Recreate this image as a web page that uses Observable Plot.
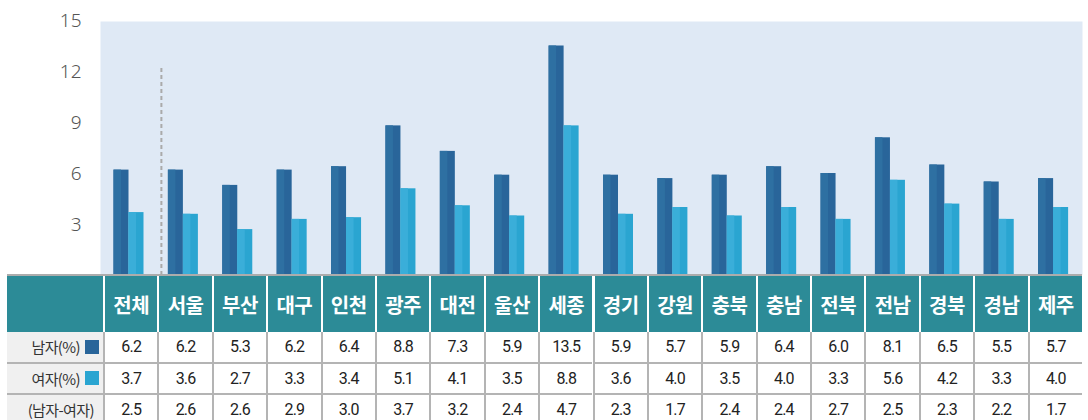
<!DOCTYPE html>
<html>
<head>
<meta charset="utf-8">
<script src="https://cdn.jsdelivr.net/npm/d3@7"></script>
<script src="https://cdn.jsdelivr.net/npm/@observablehq/plot@0.6"></script>
<style>
  html, body { margin: 0; padding: 0; background: #fff; }
  #wrap { position: relative; width: 1088px; height: 420px; overflow: hidden; font-family: "Noto Sans CJK KR", "Noto Sans", sans-serif; }
  #chart svg { display: block; }
  .cell { position: absolute; box-sizing: border-box; display: flex; align-items: center; justify-content: center; }
</style>
</head>
<body>
<div id="wrap"><div id="chart"></div><div id="table"></div></div>
<script>
// ---- data ----
const regions = ["전체","서울","부산","대구","인천","광주","대전","울산","세종","경기","강원","충북","충남","전북","전남","경북","경남","제주"];
const male   = [6.2,6.2,5.3,6.2,6.4,8.8,7.3,5.9,13.5,5.9,5.7,5.9,6.4,6.0,8.1,6.5,5.5,5.7];
const female = [3.7,3.6,2.7,3.3,3.4,5.1,4.1,3.5,8.8,3.6,4.0,3.5,4.0,3.3,5.6,4.2,3.3,4.0];
const diff   = [2.5,2.6,2.6,2.9,3.0,3.7,3.2,2.4,4.7,2.3,1.7,2.4,2.4,2.7,2.5,2.3,2.2,1.7];
const rowLabels = ["남자(%)","여자(%)","(남자-여자)"];
const yTicks = [3,6,9,12,15];
const separatorBefore = ["서울"];
const separatorTop = [12.2];

const maleColor = "#29659a", maleLight = "#2e70a2";
const femaleColor = "#2aa5d1", femaleLight = "#3aaed9";

const data = regions.map((r, i) => ({region: r, male: male[i], female: female[i], diff: diff[i]}));

const W = 1088, ML = 103, MR = 6;
const bw = (W - ML - MR) / regions.length;
const barW = 15, off = 10.5;

const plot = Plot.plot({
  width: W, height: 275,
  marginLeft: ML, marginRight: MR, marginTop: 20, marginBottom: 0,
  x: {domain: regions, padding: 0, round: false, axis: null},
  y: {domain: [0, 15], axis: null},
  style: {fontFamily: "'Noto Sans', sans-serif", background: "transparent"},
  marks: [
    Plot.frame({fill: "#dfe9f5", stroke: "none", insetLeft: -3, insetTop: 1}),
    Plot.text(yTicks, {y: d => d, text: d => String(d), frameAnchor: "left", textAnchor: "end", dx: -22, fontSize: 19, fill: "#555", fontWeight: 300}),
    Plot.ruleX(separatorBefore, {x: d => d, dx: -bw / 2 + 3.5, y1: 0, y2: () => separatorTop[0], stroke: "#aaa", strokeWidth: 2, strokeDasharray: "4,3"}),
    Plot.barY(data, {x: "region", y: "male", fill: maleColor, insetLeft: off, insetRight: bw - off - barW}),
    Plot.barY(data, {x: "region", y: "male", fill: maleLight, insetLeft: off, insetRight: bw - off - barW / 2}),
    Plot.barY(data, {x: "region", y: "female", fill: femaleColor, insetLeft: off + barW, insetRight: bw - off - 2 * barW}),
    Plot.barY(data, {x: "region", y: "female", fill: femaleLight, insetLeft: off + barW, insetRight: bw - off - 1.5 * barW})
  ]
});
document.getElementById("chart").appendChild(plot);

// ---- table below, aligned with the plot's x scale ----
const xs = plot.scale("x");
const table = d3.select("#table");
const T0 = 274, left0 = 7, right0 = W - MR;
const headTop = T0 + 2, headH = 56, rowH = 31.5;
const teal = "#2c8b97", grid = "#b4b4b4";

// top gray line
table.append("div").attr("class", "cell")
  .style("left", left0 + "px").style("top", T0 + "px")
  .style("width", (right0 - left0) + "px").style("height", "2px").style("background", "#acacac");

// header
table.append("div").attr("class", "cell")
  .style("left", left0 + "px").style("top", headTop + "px")
  .style("width", (ML - left0) + "px").style("height", headH + "px").style("background", teal);
regions.forEach(r => {
  table.append("div").attr("class", "cell")
    .style("left", xs.apply(r) + "px").style("top", headTop + "px")
    .style("width", bw + "px").style("height", headH + "px")
    .style("background", teal).style("border-left", "2px solid #fff")
    .style("color", "#fff").style("font-weight", "bold").style("font-size", "20px")
    .style("letter-spacing", "-0.5px")
    .text(r);
});

// body rows
const rows = [male, female, diff];
const swatches = [maleColor, femaleColor, null];
rows.forEach((vals, k) => {
  const top = headTop + headH + k * rowH;
  const lab = table.append("div").attr("class", "cell")
    .style("left", left0 + "px").style("top", top + "px")
    .style("width", (ML - left0) + "px").style("height", rowH + "px")
    .style("background", "#f0f0f0").style("border-bottom", "2px solid " + grid)
    .style("justify-content", "flex-end")
    .style("padding-right", swatches[k] ? "4px" : "9px")
    .style("font-size", "15px").style("color", "#333").style("letter-spacing", "-0.6px");
  lab.append("span").text(rowLabels[k]);
  if (swatches[k]) {
    lab.append("span").style("display", "inline-block").style("width", "14px").style("height", "14px")
      .style("margin-left", "5px").style("background", swatches[k]);
  }
  regions.forEach((r, i) => {
    table.append("div").attr("class", "cell")
      .style("left", xs.apply(r) + "px").style("top", top + "px")
      .style("width", bw + "px").style("height", rowH + "px")
      .style("background", "#fff").style("border-left", "2px solid " + grid)
      .style("border-bottom", "2px solid " + grid)
      .style("font-family", "'Liberation Sans Narrow', 'Roboto', sans-serif")
      .style("font-size", "16px").style("color", "#222").style("letter-spacing", "-0.8px")
      .text(vals[i].toFixed(1));
  });
});
</script>
</body>
</html>
